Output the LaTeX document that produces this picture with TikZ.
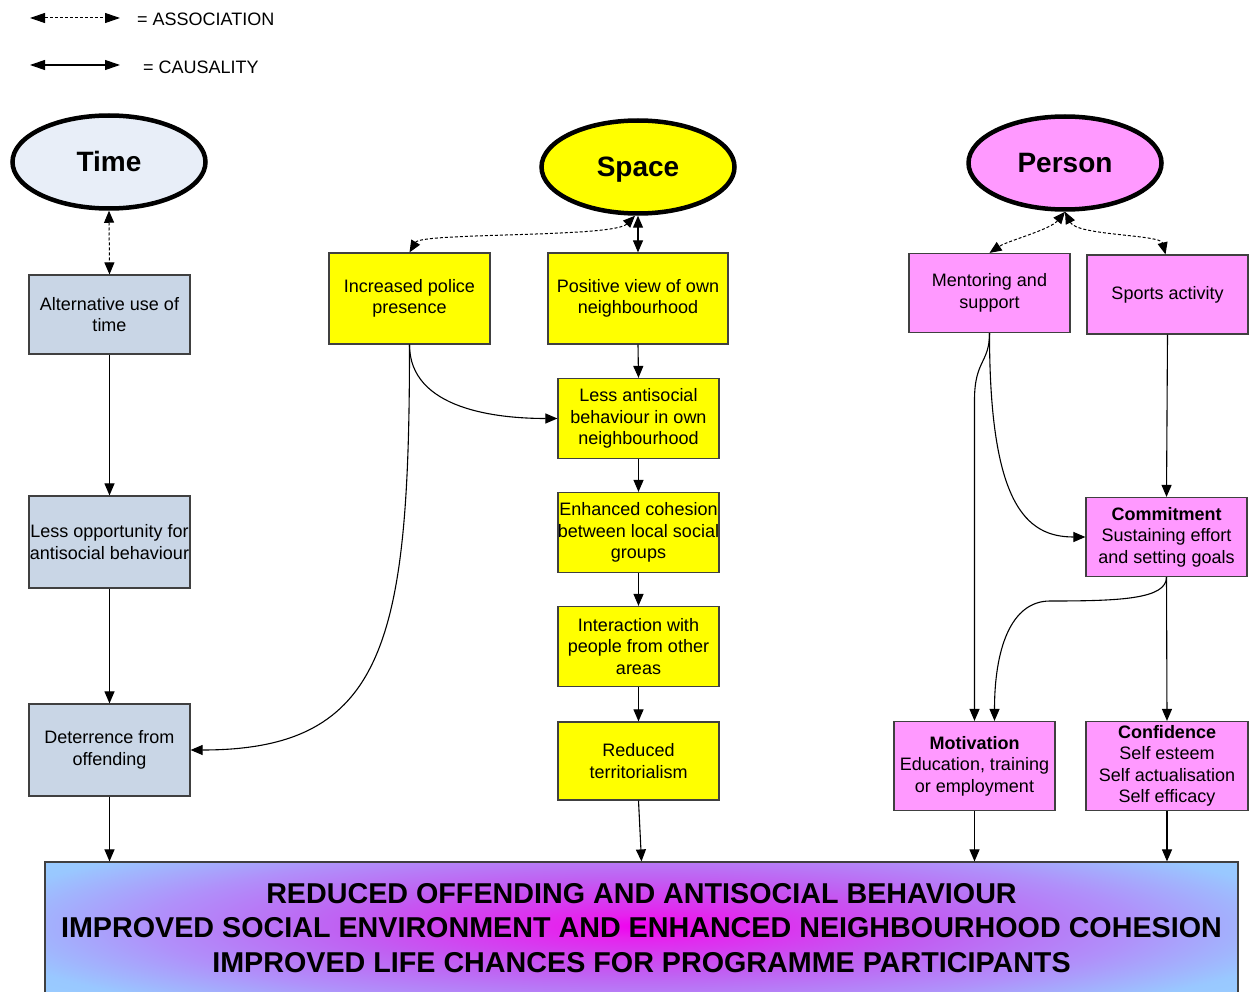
\documentclass[tikz,border=0pt]{standalone}
\usepackage{fontspec}
\setmainfont{Liberation Sans}
\usetikzlibrary{arrows.meta,shapes.geometric}
\definecolor{timefill}{HTML}{E8EEF8}
\definecolor{timebox}{HTML}{C9D6E6}
\definecolor{spaceyel}{HTML}{FFFF00}
\definecolor{personpink}{HTML}{FF99FF}
\definecolor{boxline}{HTML}{404040}
\definecolor{glowA}{HTML}{F000F0}
\definecolor{glowB}{HTML}{E622EE}
\definecolor{glowC}{HTML}{C060F2}
\definecolor{glowD}{HTML}{B090FA}
\definecolor{glowE}{HTML}{99C8FF}
\definecolor{glowF}{HTML}{99CCFF}
\pgfdeclareradialshading{glow}{\pgfpoint{0bp}{0bp}}{color(0bp)=(glowA); color(3bp)=(glowB); color(12.5bp)=(glowC); color(20.5bp)=(glowD); color(28bp)=(glowE); color(31bp)=(glowF); color(60bp)=(glowF)}
\begin{document}
\begin{tikzpicture}[x=1pt,y=-1pt,
  every node/.style={font=\fontsize{18}{21.5}\selectfont, align=center, inner sep=0pt},
  box/.style={draw=boxline, line width=1.2pt, rectangle, minimum width=161pt},
  tbox/.style={box, fill=timebox},
  sbox/.style={box, fill=spaceyel},
  pbox/.style={box, fill=personpink},
  hub/.style={ellipse, draw=black, line width=4.5pt, minimum width=193pt, minimum height=93pt, text height=20pt, text depth=0pt, font=\fontsize{28}{32}\selectfont\bfseries},
  cause/.style={line width=1.1pt, -{Triangle[length=12pt,width=10pt]}},
  cause2/.style={line width=1.1pt, {Triangle[length=12pt,width=10pt]}-{Triangle[length=12pt,width=10pt]}},
  assoc/.style={line width=1pt, dash pattern=on 3pt off 2pt, {Triangle[length=12pt,width=10pt]}-{Triangle[length=12pt,width=10pt]}},
  legtips/.style={{Triangle[length=15pt,width=10pt]}-{Triangle[length=15pt,width=10pt]}},
]
\useasboundingbox (0,0) rectangle (1250,992);

% legend
\coordinate (la1) at (30,18);
\coordinate (la2) at (120,18);
\coordinate (lc1) at (30,65);
\coordinate (lc2) at (120,65);
\draw[assoc, legtips] (la1) -- (la2);
\draw[cause2, legtips] (lc1) -- (lc2);
\node[anchor=west] (assoclbl) at (137,19) {= ASSOCIATION};
\node[anchor=west] (causelbl) at (143,67) {= CAUSALITY};

% hubs
\node[hub, fill=timefill] (time) at (109,162) {Time};
\node[hub, fill=spaceyel] (space) at (638,167) {Space};
\node[hub, fill=personpink] (person) at (1065,163) {Person};

% time column
\node[tbox, minimum height=79pt] (alt) at (109.5,314.5) {Alternative use of\\time};
\node[tbox, minimum height=92pt] (lessopp) at (109.5,542) {Less opportunity for\\antisocial behaviour};
\node[tbox, minimum height=92pt] (deter) at (109.5,750) {Deterrence from\\offending};

% space column
\node[sbox, minimum height=91pt] (police) at (409.5,298.5) {Increased police\\presence};
\node[sbox, minimum height=91pt, minimum width=180pt] (positive) at (638,298.5) {Positive view of own\\neighbourhood};
\node[sbox, minimum height=80pt] (lessasb) at (638.5,418.5) {Less antisocial\\behaviour in own\\neighbourhood};
\node[sbox, minimum height=80pt] (cohesion) at (638.5,532.5) {Enhanced cohesion\\between local social\\groups};
\node[sbox, minimum height=80pt] (interaction) at (638.5,646.5) {Interaction with\\people from other\\areas};
\node[sbox, minimum height=78pt] (reduced) at (638.5,761) {Reduced\\territorialism};

% person column
\node[pbox, minimum height=79pt] (mentoring) at (989.5,293) {Mentoring and\\support};
\node[pbox, minimum height=79pt] (sports) at (1167.5,294.5) {Sports activity};
\node[pbox, minimum height=79pt] (commitment) at (1166.5,537) {\textbf{Commitment}\\Sustaining effort\\and setting goals};
\node[pbox, minimum height=89pt] (motivation) at (974.5,766) {\textbf{Motivation}\\Education, training\\or employment};
\node[pbox, minimum height=89pt, minimum width=162pt] (confidence) at (1167,766) {\textbf{Confidence}\\Self esteem\\Self actualisation\\Self efficacy};

% outcome box
\begin{scope}
\clip (45,862) rectangle (1238,996);
\shade[shading=glow] (45,830) rectangle (1238,1022);
\end{scope}
\node[draw=boxline, line width=1.2pt, minimum width=1193pt, minimum height=132pt,
      font=\fontsize{28.7}{34.5}\selectfont\bfseries] (outcome) at (641.5,928)
  {\raisebox{1.5pt}{\parbox{1190pt}{\centering REDUCED OFFENDING AND ANTISOCIAL BEHAVIOUR\\IMPROVED SOCIAL ENVIRONMENT AND ENHANCED NEIGHBOURHOOD COHESION\\IMPROVED LIFE CHANCES FOR PROGRAMME PARTICIPANTS}}};

% time connectors
\draw[assoc] (time.south) -- (alt.north);
\draw[cause] (alt.south) -- (lessopp.north);
\draw[cause] (lessopp.south) -- (deter.north);
\draw[cause] (deter.south) -- (deter.south |- outcome.north);

% space connectors
\draw[assoc] ([xshift=-3pt]space.south) .. controls +(-22,22) and +(12,-20) .. (police.north);
\draw[cause2] (space.south) -- (positive.north);
\draw[cause] (police.south) .. controls +(0,65) and +(-60,0) .. (lessasb.west);
\draw[cause] (police.south) .. controls +(0,297) and +(195,0) .. (deter.east);
\draw[cause] (positive.south) -- (lessasb.north);
\draw[cause] (lessasb.south) -- (cohesion.north);
\draw[cause] (cohesion.south) -- (interaction.north);
\draw[cause] (interaction.south) -- (reduced.north);
\draw[cause] (reduced.south) -- ([xshift=3pt]reduced.south |- outcome.north);

% person connectors
\draw[assoc] (person.south) .. controls +(-15,18) and +(18,-12) .. (mentoring.north);
\draw[assoc] (person.south) .. controls +(12,24) and +(-5,-20) .. ([xshift=-2pt]sports.north);
\draw[cause] (mentoring.south) .. controls +(0,30) and +(0,-40) .. (motivation.north |- 0,400) -- (motivation.north);
\draw[cause] (mentoring.south) .. controls +(0,170) and +(-60,0) .. (commitment.west);
\draw[cause] (sports.south) -- (commitment.north);
\draw[cause] (commitment.south) -- (confidence.north);
\coordinate (bend) at (1050,601);
\draw[cause] (commitment.south) .. controls +(0,22) and +(70,0) .. (bend)
  .. controls +(-40,0) and +(0,-70) .. ([xshift=20pt]motivation.north);
\draw[cause] (motivation.south) -- (motivation.south |- outcome.north);
\draw[cause] (confidence.south) -- (confidence.south |- outcome.north);
\end{tikzpicture}
\end{document}
